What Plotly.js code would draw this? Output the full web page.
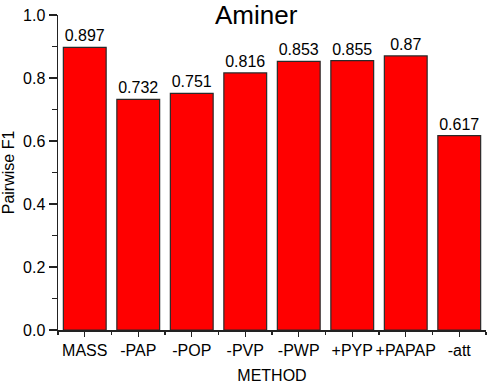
<!DOCTYPE html>
<html>
<head>
<meta charset="utf-8">
<script src="https://cdn.plot.ly/plotly-3.0.1.min.js"></script>
<style>
  html, body { margin: 0; padding: 0; background: #fff; }
  #chart { width: 488px; height: 384px; }
</style>
</head>
<body>
<div id="chart"></div>
<script>
// Chart data
const methods = ['MASS', '-PAP', '-POP', '-PVP', '-PWP', '+PYP', '+PAPAP', '-att'];
const f1Scores = [0.897, 0.732, 0.751, 0.816, 0.853, 0.855, 0.87, 0.617];
const yTickVals = [0, 0.2, 0.4, 0.6, 0.8, 1.0];

const FONT = 'Liberation Sans, Arial, sans-serif';
const positions = methods.map((m, i) => i);

const trace = {
    type: 'bar',
    x: positions,
    y: f1Scores,
    width: 0.8,
    marker: {
        color: '#ff0000',
        line: { color: '#2a2a2a', width: 1.2 }
    },
    text: f1Scores.map(String),
    textposition: 'outside',
    textfont: { family: FONT, size: 16, color: '#000' },
    cliponaxis: false,
    hoverinfo: 'skip'
};

const layout = {
    width: 488,
    height: 384,
    margin: { l: 58, r: 2, t: 15, b: 54 },
    paper_bgcolor: '#fff',
    plot_bgcolor: '#fff',
    font: { family: FONT, size: 16, color: '#000' },
    showlegend: false,
    title: {
        text: 'Aminer',
        font: { family: FONT, size: 26, color: '#000' },
        xref: 'container',
        x: 0.525,
        xanchor: 'center',
        yref: 'container',
        y: 0.962,
        yanchor: 'middle',
        pad: { t: 0, b: 0, l: 0, r: 0 }
    },
    xaxis: {
        type: 'linear',
        range: [-0.5, 7.5],
        tickmode: 'array',
        tickvals: positions,
        ticktext: methods,
        ticks: 'outside',
        ticklen: 5,
        tickwidth: 1.2,
        tickcolor: '#222',
        minor: { ticks: 'outside', tick0: 0.5, dtick: 1, ticklen: 3, tickwidth: 1.2, tickcolor: '#222' },
        showline: true,
        linecolor: '#222',
        linewidth: 1.5,
        showgrid: false,
        zeroline: false,
        tickfont: { family: FONT, size: 16, color: '#000' },
        title: { text: 'METHOD', font: { family: FONT, size: 16, color: '#000' }, standoff: 14 }
    },
    yaxis: {
        range: [0, 1],
        tickmode: 'array',
        tickvals: yTickVals,
        tickformat: '.1f',
        ticks: 'outside',
        ticklen: 8,
        tickwidth: 1.2,
        tickcolor: '#222',
        minor: { ticks: 'outside', dtick: 0.1, ticklen: 5, tickwidth: 1.2, tickcolor: '#222' },
        showline: true,
        linecolor: '#222',
        linewidth: 1.5,
        showgrid: false,
        zeroline: false,
        tickfont: { family: FONT, size: 16, color: '#000' },
        title: { text: 'Pairwise F1', font: { family: FONT, size: 16, color: '#000' }, standoff: 8 }
    }
};

Plotly.newPlot('chart', [trace], layout, { displayModeBar: false, staticPlot: true });
</script>
</body>
</html>
